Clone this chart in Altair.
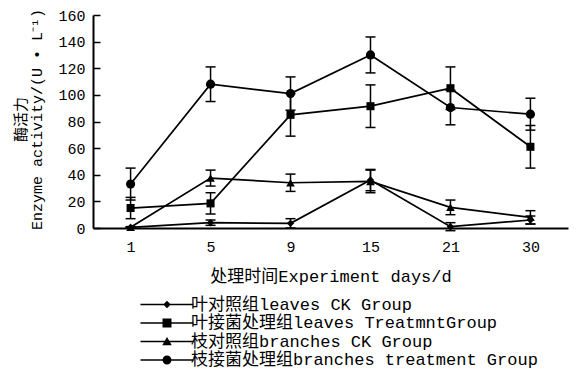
import altair as alt
import pandas as pd

# ---- data ----
days = ["1", "5", "9", "15", "21", "30"]
series_names = [
    "叶对照组leaves CK Group",
    "叶接菌处理组leaves TreatmntGroup",
    "枝对照组branches CK Group",
    "枝接菌处理组branches treatment Group",
]
leaves_ck = [0.5, 4, 3.5, 36, 1, 6]
leaves_ck_err = [0.5, 2, 3.5, 8, 3, 3]
leaves_trt = [15, 18.5, 85, 91.5, 105, 61]
leaves_trt_err = [8, 8, 16, 16, 16, 16]
branches_ck = [0.5, 37.5, 34, 35, 15.5, 8]
branches_ck_err = [0.5, 6, 6.5, 8.5, 5.5, 5]
branches_trt = [33, 108, 101, 130, 90.5, 85.5]
branches_trt_err = [12, 13, 12.5, 13.5, 13, 12]
y_ticks = [0, 20, 40, 60, 80, 100, 120, 140, 160]

# ---- styles ----
marker_shapes = ["diamond", "square", "triangle-up", "circle"]
marker_sizes = [55, 85, 85, 75]
LINE = "M-5.3,-0.17H5.3V0.17H-5.3Z"
legend_paths = [
    LINE + "M0,-0.75L0.75,0L0,0.75L-0.75,0Z",
    LINE + "M-0.9,-0.9H0.9V0.9H-0.9Z",
    LINE + "M0,-0.9L0.95,0.75L-0.95,0.75Z",
    LINE + "M0.9,0A0.9,0.9,0,1,1,-0.9,0A0.9,0.9,0,1,1,0.9,0Z",
]
FONT = "Liberation Mono, Noto Sans CJK SC"

rows = []
for name, vals, errs in zip(
    series_names,
    [leaves_ck, leaves_trt, branches_ck, branches_trt],
    [leaves_ck_err, leaves_trt_err, branches_ck_err, branches_trt_err],
):
    for d, v, e in zip(days, vals, errs):
        rows.append({"day": d, "series": name, "value": v, "lo": v - e, "hi": v + e})
df = pd.DataFrame(rows)

x = alt.X(
    "day:O",
    sort=days,
    scale=alt.Scale(type="point", padding=0.47),
    axis=alt.Axis(
        title="处理时间Experiment days/d",
        labelAngle=0,
        ticks=False,
        tickSize=0,
        labelPadding=11,
        titlePadding=14,
        domainWidth=2,
        domainColor="black",
        grid=False,
        labelFont=FONT,
        labelFontSize=15,
        labelColor="black",
        titleFont=FONT,
        titleFontSize=17,
        titleFontWeight="normal",
        titleColor="black",
    ),
)
yscale = alt.Scale(domain=[0, 160], nice=False, zero=True)

lines = alt.Chart(df).mark_line(color="black", strokeWidth=1.7).encode(
    x=x,
    y=alt.Y(
        "value:Q",
        scale=yscale,
        axis=alt.Axis(
            orient="left",
            values=y_ticks,
            ticks=False,
            tickSize=0,
            labelPadding=8,
            domainWidth=2,
            domainColor="black",
            grid=False,
            labelFont=FONT,
            labelFontSize=15,
            labelColor="black",
            title=["酶活力", "Enzyme activity/(U • L⁻¹)"],
            titleFont=FONT,
            titleFontSize=15,
            titleFontWeight="normal",
            titleColor="black",
            titleX=-65,
            titleY=104,
            titleBaseline="bottom",
            titleLineHeight=16,
        ),
    ),
    detail="series:N",
)

rules = alt.Chart(df).mark_rule(color="black", strokeWidth=1.5).encode(
    x=x, y=alt.Y("lo:Q", scale=yscale, axis=None), y2="hi:Q"
)
caps_lo = alt.Chart(df).mark_tick(color="black", thickness=1.5, size=10, opacity=1).encode(
    x=x, y=alt.Y("lo:Q", scale=yscale, axis=None)
)
caps_hi = alt.Chart(df).mark_tick(color="black", thickness=1.5, size=10, opacity=1).encode(
    x=x, y=alt.Y("hi:Q", scale=yscale, axis=None)
)

pts = alt.Chart(df).mark_point(filled=True, color="black", opacity=1).encode(
    x=x,
    y=alt.Y(
        "value:Q",
        scale=yscale,
        axis=alt.Axis(
            orient="left",
            offset=-7,
            values=y_ticks,
            domain=False,
            labels=False,
            ticks=True,
            tickSize=7,
            tickWidth=1.5,
            tickColor="black",
            title=None,
            grid=False,
        ),
    ),
    shape=alt.Shape("series:N", scale=alt.Scale(domain=series_names, range=marker_shapes), legend=None),
    size=alt.Size("series:N", scale=alt.Scale(domain=series_names, range=marker_sizes), legend=None),
)

leg = (
    alt.Chart(df)
    .transform_filter("false")
    .mark_point(filled=True, color="black", opacity=1)
    .encode(
        x=x,
        y=alt.Y("value:Q", scale=yscale, axis=None),
        shape=alt.Shape(
            "series:N",
            scale=alt.Scale(domain=series_names, range=legend_paths),
            legend=alt.Legend(
                title=None,
                orient="none",
                legendX=65.5,
                legendY=281,
                direction="vertical",
                symbolSize=100,
                symbolFillColor="black",
                symbolStrokeWidth=0,
                labelFont=FONT,
                labelFontSize=17,
                labelColor="black",
                labelOffset=15.5,
                labelLimit=600,
                rowPadding=0.5,
                padding=0,
            ),
        ),
    )
)

chart = (
    alt.layer(lines, rules, caps_lo, caps_hi, pts, leg)
    .resolve_scale(shape="independent", size="independent")
    .resolve_axis(y="independent")
    .properties(
        width=475,
        height=213,
        autosize=alt.AutoSizeParams(type="none"),
        padding={"left": 85, "top": 7, "right": 2, "bottom": 150},
    )
    .configure_view(stroke=None)
)

chart.save("out.html", embed_options={"renderer": "svg", "actions": False})
